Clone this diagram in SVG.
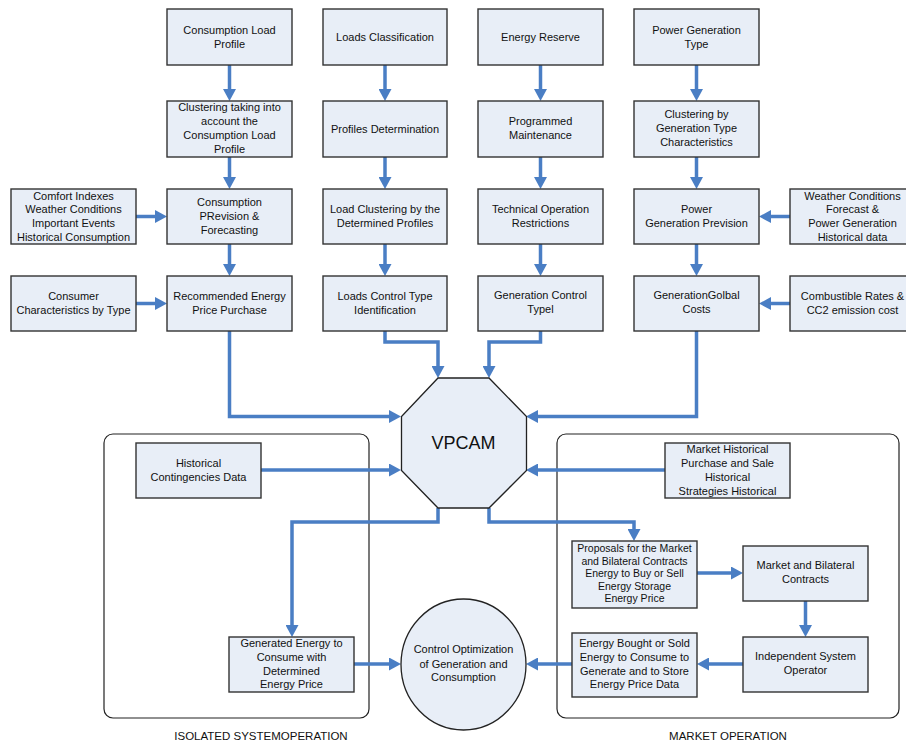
<svg xmlns="http://www.w3.org/2000/svg" width="906" height="743" viewBox="0 0 906 743">
<style>
.box{fill:#e8eef7;stroke:#333;stroke-width:1.4}
.grp{fill:none;stroke:#222;stroke-width:1.2}
.t{font-family:"Liberation Sans",Arial,sans-serif;font-size:11px;fill:#111;text-anchor:middle}
.s{font-size:10.5px}
.lbl{font-family:"Liberation Sans",Arial,sans-serif;font-size:11.5px;fill:#111;text-anchor:middle}
.c{fill:none;stroke:#4a7ec4;stroke-width:3.5;stroke-linejoin:miter;marker-end:url(#ah)}
</style>
<defs>
<marker id="ah" markerUnits="userSpaceOnUse" viewBox="0 0 12 13" refX="2" refY="6.5" markerWidth="12" markerHeight="13" orient="auto">
<path d="M0,0 L12,6.5 L0,13 Z" fill="#4a7ec4"/>
</marker>
</defs>
<rect width="906" height="743" fill="#fff"/>

<g id="isolated-group">
<rect class="grp" x="104" y="434" width="265" height="284" rx="9"/>
<text class="lbl" x="261" y="740">ISOLATED SYSTEMOPERATION</text>
</g>
<g id="market-group">
<rect class="grp" x="557" y="434" width="342" height="284" rx="9"/>
<text class="lbl" x="728" y="740">MARKET OPERATION</text>
</g>

<g id="connectors">
<path class="c" d="M229.5,65 V91"/>
<path class="c" d="M229.5,157 V179"/>
<path class="c" d="M229.5,244 V266"/>
<path class="c" d="M385,65 V91"/>
<path class="c" d="M385,157 V179"/>
<path class="c" d="M385,244 V266"/>
<path class="c" d="M540.5,65 V91"/>
<path class="c" d="M540.5,157 V179"/>
<path class="c" d="M540.5,244 V266"/>
<path class="c" d="M696.5,65 V91"/>
<path class="c" d="M696.5,157 V179"/>
<path class="c" d="M696.5,244 V266"/>
<path class="c" d="M136,216.5 H157"/>
<path class="c" d="M136,303.5 H157"/>
<path class="c" d="M790,216.5 H769"/>
<path class="c" d="M790,303.5 H769"/>
<path class="c" d="M229.5,331 V416.5 H391"/>
<path class="c" d="M385,331 V342 H438 V368"/>
<path class="c" d="M540.5,331 V342 H489 V368"/>
<path class="c" d="M696.5,331 V416.5 H536"/>
<path class="c" d="M261,470 H391"/>
<path class="c" d="M665,470 H536"/>
<path class="c" d="M438,508 V522 H292 V627"/>
<path class="c" d="M489,508 V522 H634 V531"/>
<path class="c" d="M697,573 H733"/>
<path class="c" d="M805.5,601 V627"/>
<path class="c" d="M743,664 H707"/>
<path class="c" d="M572,664 H536"/>
<path class="c" d="M354,664 H391"/>
</g>

<g id="consumption-load-profile">
<rect class="box" x="167" y="9" width="125" height="56"/>
<text class="t" x="229.5" y="34">Consumption Load</text>
<text class="t" x="229.5" y="48">Profile</text>
</g>
<g id="loads-classification">
<rect class="box" x="323" y="9" width="124" height="56"/>
<text class="t" x="385" y="41">Loads Classification</text>
</g>
<g id="energy-reserve">
<rect class="box" x="478" y="9" width="125" height="56"/>
<text class="t" x="540.5" y="41">Energy Reserve</text>
</g>
<g id="power-generation-type">
<rect class="box" x="634" y="9" width="125" height="56"/>
<text class="t" x="696.5" y="34">Power Generation</text>
<text class="t" x="696.5" y="48">Type</text>
</g>

<g id="clustering-consumption">
<rect class="box" x="167" y="101" width="125" height="56"/>
<text class="t" x="229.5" y="111">Clustering taking into</text>
<text class="t" x="229.5" y="125">account the</text>
<text class="t" x="229.5" y="139">Consumption Load</text>
<text class="t" x="229.5" y="152.5">Profile</text>
</g>
<g id="profiles-determination">
<rect class="box" x="323" y="101" width="124" height="56"/>
<text class="t" x="385" y="133">Profiles Determination</text>
</g>
<g id="programmed-maintenance">
<rect class="box" x="478" y="101" width="125" height="56"/>
<text class="t" x="540.5" y="125">Programmed</text>
<text class="t" x="540.5" y="139">Maintenance</text>
</g>
<g id="clustering-generation">
<rect class="box" x="634" y="101" width="125" height="56"/>
<text class="t" x="696.5" y="118">Clustering by</text>
<text class="t" x="696.5" y="132">Generation Type</text>
<text class="t" x="696.5" y="146">Characteristics</text>
</g>

<g id="comfort-indexes">
<rect class="box" x="11" y="189" width="125" height="55"/>
<text class="t" x="73.5" y="199.5">Comfort Indexes</text>
<text class="t" x="73.5" y="213">Weather Conditions</text>
<text class="t" x="73.5" y="227">Important Events</text>
<text class="t" x="73.5" y="240.5">Historical Consumption</text>
</g>
<g id="consumption-prevision">
<rect class="box" x="167" y="189" width="125" height="55"/>
<text class="t" x="229.5" y="205.5">Consumption</text>
<text class="t" x="229.5" y="220">PRevision &amp;</text>
<text class="t" x="229.5" y="234">Forecasting</text>
</g>
<g id="load-clustering">
<rect class="box" x="323" y="189" width="124" height="55"/>
<text class="t" x="385" y="213">Load Clustering by the</text>
<text class="t" x="385" y="227">Determined Profiles</text>
</g>
<g id="technical-operation">
<rect class="box" x="478" y="189" width="125" height="55"/>
<text class="t" x="540.5" y="213">Technical Operation</text>
<text class="t" x="540.5" y="227">Restrictions</text>
</g>
<g id="power-generation-prevision">
<rect class="box" x="634" y="189" width="125" height="55"/>
<text class="t" x="696.5" y="213">Power</text>
<text class="t" x="696.5" y="227">Generation Prevision</text>
</g>
<g id="weather-forecast">
<rect class="box" x="790" y="189" width="125" height="55"/>
<text class="t" x="852.5" y="199.5">Weather Conditions</text>
<text class="t" x="852.5" y="213">Forecast &amp;</text>
<text class="t" x="852.5" y="227">Power Generation</text>
<text class="t" x="852.5" y="240.5">Historical data</text>
</g>

<g id="consumer-characteristics">
<rect class="box" x="11" y="276" width="125" height="55"/>
<text class="t" x="73.5" y="300">Consumer</text>
<text class="t" x="73.5" y="314">Characteristics by Type</text>
</g>
<g id="recommended-price">
<rect class="box" x="167" y="276" width="125" height="55"/>
<text class="t" x="229.5" y="300">Recommended Energy</text>
<text class="t" x="229.5" y="314">Price Purchase</text>
</g>
<g id="loads-control-type">
<rect class="box" x="323" y="276" width="124" height="55"/>
<text class="t" x="385" y="300">Loads Control Type</text>
<text class="t" x="385" y="314">Identification</text>
</g>
<g id="generation-control-type">
<rect class="box" x="478" y="276" width="125" height="55"/>
<text class="t" x="540.5" y="299">Generation Control</text>
<text class="t" x="540.5" y="313">Typel</text>
</g>
<g id="generation-global-costs">
<rect class="box" x="634" y="276" width="125" height="55"/>
<text class="t" x="696.5" y="299">GenerationGolbal</text>
<text class="t" x="696.5" y="313">Costs</text>
</g>
<g id="combustible-rates">
<rect class="box" x="790" y="276" width="125" height="55"/>
<text class="t" x="852.5" y="300">Combustible Rates &amp;</text>
<text class="t" x="852.5" y="314">CC2 emission cost</text>
</g>

<g id="vpcam">
<polygon points="438,378 489,378 526.5,416.5 526.5,470.5 489,508 438,508 401.5,470.5 401.5,416.5" fill="#e8eef7" stroke="#222" stroke-width="1.3"/>
<text x="463.5" y="449" font-family="Liberation Sans,Arial,sans-serif" font-size="18" fill="#111" text-anchor="middle">VPCAM</text>
</g>

<g id="historical-contingencies">
<rect class="box" x="136" y="443" width="125" height="55"/>
<text class="t" x="198.5" y="467">Historical</text>
<text class="t" x="198.5" y="481">Contingencies Data</text>
</g>
<g id="market-historical">
<rect class="box" x="665" y="443" width="125" height="55"/>
<text class="t" x="727.5" y="453">Market Historical</text>
<text class="t" x="727.5" y="467">Purchase and Sale</text>
<text class="t" x="727.5" y="481">Historical</text>
<text class="t" x="727.5" y="495">Strategies Historical</text>
</g>

<g id="proposals">
<rect class="box" x="572" y="541" width="125" height="67"/>
<text class="t s" x="634.5" y="552">Proposals for the Market</text>
<text class="t s" x="634.5" y="564.5">and Bilateral Contracts</text>
<text class="t s" x="634.5" y="577">Energy to Buy or Sell</text>
<text class="t s" x="634.5" y="589.5">Energy Storage</text>
<text class="t s" x="634.5" y="602">Energy Price</text>
</g>
<g id="market-bilateral">
<rect class="box" x="743" y="546" width="125" height="55"/>
<text class="t" x="805.5" y="569">Market and Bilateral</text>
<text class="t" x="805.5" y="583">Contracts</text>
</g>
<g id="independent-operator">
<rect class="box" x="743" y="637" width="125" height="55"/>
<text class="t" x="805.5" y="660">Independent System</text>
<text class="t" x="805.5" y="674">Operator</text>
</g>
<g id="energy-bought">
<rect class="box" x="572" y="633" width="125" height="64"/>
<text class="t" x="634.5" y="647">Energy Bought or Sold</text>
<text class="t" x="634.5" y="661">Energy to Consume  to</text>
<text class="t" x="634.5" y="674.5">Generate and to Store</text>
<text class="t" x="634.5" y="688">Energy Price Data</text>
</g>
<g id="generated-energy">
<rect class="box" x="229" y="637" width="125" height="55"/>
<text class="t" x="291.5" y="647">Generated Energy to</text>
<text class="t" x="291.5" y="661">Consume  with</text>
<text class="t" x="291.5" y="674.5">Determined</text>
<text class="t" x="291.5" y="688">Energy Price</text>
</g>
<g id="control-optimization">
<ellipse cx="463.5" cy="664.5" rx="62.5" ry="65.5" fill="#e8eef7" stroke="#222" stroke-width="1.3"/>
<text class="t" x="463.5" y="653">Control Optimization</text>
<text class="t" x="463.5" y="667.5">of Generation and</text>
<text class="t" x="463.5" y="681">Consumption</text>
</g>
</svg>
